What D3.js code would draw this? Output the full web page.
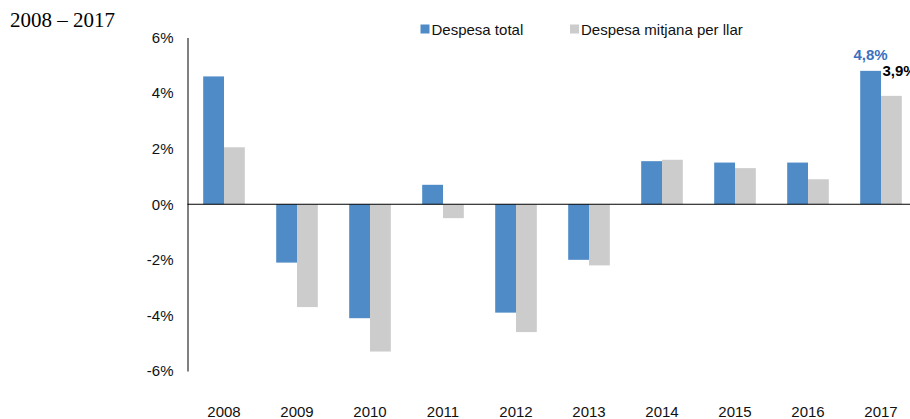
<!DOCTYPE html>
<html>
<head>
<meta charset="utf-8">
<script src="https://cdn.jsdelivr.net/npm/d3@7"></script>
<style>
  body { margin: 0; background: #fff; }
  svg { display: block; }
  text { font-family: "Liberation Sans", Arial, sans-serif; }
</style>
</head>
<body>
<svg></svg>
<script>
// dades llegides del gràfic
const years = ['2008','2009','2010','2011','2012','2013','2014','2015','2016','2017']
const despesaTotal = [4.6, -2.1, -4.1, 0.7, -3.9, -2.0, 1.55, 1.5, 1.5, 4.8]
const despesaLlar = [2.05, -3.7, -5.3, -0.5, -4.6, -2.2, 1.6, 1.3, 0.9, 3.9]
const yTicks = [-6, -4, -2, 0, 2, 4, 6]
const seriesNames = ['Despesa total', 'Despesa mitjana per llar']
const colors = ['#4f8cc7', '#cccccc']

const width = 910
const height = 419
const svg = d3.select('svg')
    .attr('width', width)
    .attr('height', height)

// escales
const xScale = d3.scaleBand()
    .domain(years)
    .range([187.5, 917.5])
    .paddingInner(0.43)
    .paddingOuter(0.215)
const xSub = d3.scaleBand()
    .domain([0, 1])
    .range([0, xScale.bandwidth()])
const yScale = d3.scaleLinear()
    .domain([-6, 6])
    .range([371, 37.5])

// títol
svg.append('text')
    .attr('x', 10)
    .attr('y', 27)
    .style('font-family', '"Liberation Serif", "Times New Roman", serif')
    .style('font-size', '21px')
    .attr('fill', '#000')
    .text('2008 – 2017')

// eix Y
const yAxis = d3.axisLeft(yScale)
    .tickValues(yTicks)
    .tickSize(0)
    .tickPadding(14)
    .tickFormat(d => d + '%')
const gy = svg.append('g')
    .attr('transform', 'translate(187.5,0)')
    .call(yAxis)
gy.select('.domain').attr('stroke', '#000').attr('stroke-width', 1)
gy.selectAll('text')
    .style('font-size', '15px')
    .attr('fill', '#111')

// barres
const groups = svg.append('g')
    .selectAll('g')
    .data(years)
    .join('g')
    .attr('transform', d => 'translate(' + xScale(d) + ',0)')

;[despesaTotal, despesaLlar].forEach((serie, s) => {
    groups.append('rect')
        .attr('x', xSub(s))
        .attr('width', xSub.bandwidth())
        .attr('y', (d, i) => yScale(Math.max(0, serie[i])))
        .attr('height', (d, i) => Math.abs(yScale(serie[i]) - yScale(0)))
        .attr('fill', colors[s])
})

// línia del zero
svg.append('line')
    .attr('x1', 187.5)
    .attr('x2', width)
    .attr('y1', yScale(0))
    .attr('y2', yScale(0))
    .attr('stroke', '#000')
    .attr('stroke-width', 1)

// etiquetes d'anys
svg.append('g')
    .selectAll('text')
    .data(years)
    .join('text')
    .attr('x', d => xScale(d) + xScale.bandwidth() / 2)
    .attr('y', 417)
    .attr('text-anchor', 'middle')
    .style('font-size', '15px')
    .attr('fill', '#111')
    .text(d => d)

// etiquetes de valor del 2017
const last = years.length - 1
svg.append('text')
    .attr('x', xScale(years[last]) + xSub(0) + xSub.bandwidth() / 2)
    .attr('y', yScale(despesaTotal[last]) - 11)
    .attr('text-anchor', 'middle')
    .style('font-size', '15px')
    .style('font-weight', 'bold')
    .attr('fill', '#3a70c0')
    .text(String(despesaTotal[last]).replace('.', ',') + '%')
svg.append('text')
    .attr('x', xScale(years[last]) + xSub(1) + 1.5)
    .attr('y', yScale(despesaLlar[last]) - 20)
    .style('font-size', '15px')
    .style('font-weight', 'bold')
    .attr('fill', '#000')
    .text(String(despesaLlar[last]).replace('.', ',') + '%')

// llegenda
const legendX = [420.5, 570]
seriesNames.forEach((name, i) => {
    svg.append('rect')
        .attr('x', legendX[i])
        .attr('y', 24.5)
        .attr('width', 9)
        .attr('height', 9)
        .attr('fill', colors[i])
    svg.append('text')
        .attr('x', legendX[i] + 11)
        .attr('y', 35)
        .style('font-size', '15px')
        .attr('fill', '#111')
        .text(name)
})
</script>
</body>
</html>
